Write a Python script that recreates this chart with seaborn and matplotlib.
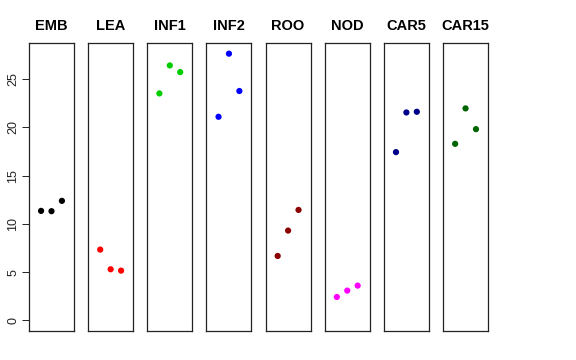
import pandas as pd
import matplotlib
matplotlib.use("Agg")
import matplotlib.pyplot as plt
import seaborn as sns

# tissue panels and their three replicate values
tissues = ["EMB", "LEA", "INF1", "INF2", "ROO", "NOD", "CAR5", "CAR15"]
colors = ["black", "red", "#00CD00", "blue", "#8B0000", "magenta", "#00008B", "#006400"]
replicate = [1, 2, 3]
emb = [11.34, 11.31, 12.38]
lea = [7.33, 5.29, 5.15]
inf1 = [23.51, 26.41, 25.72]
inf2 = [21.09, 27.63, 23.76]
roo = [6.67, 9.30, 11.44]
nod = [2.42, 3.08, 3.60]
car5 = [17.43, 21.54, 21.61]
car15 = [18.29, 21.96, 19.81]
yticks = [0, 5, 10, 15, 20, 25]

values = [emb, lea, inf1, inf2, roo, nod, car5, car15]

sns.set_style("white")
plt.rcParams["font.family"] = ["Liberation Sans", "DejaVu Sans"]
plt.rcParams["text.color"] = "black"
plt.rcParams["ytick.color"] = "#222222"
plt.rcParams["ytick.labelcolor"] = "#222222"

fig = plt.figure(figsize=(5.76, 3.6), dpi=100)

ymax = max(max(v) for v in values)
ylim = (-0.04 * ymax, ymax * 1.04)

for i, (name, col, vals) in enumerate(zip(tissues, colors, values)):
    left = 29 + i * 59.15
    ax = fig.add_axes([left / 576, 29 / 360, 45 / 576, 288 / 360])
    df = pd.DataFrame({"rep": replicate, "value": vals})
    sns.scatterplot(data=df, x="rep", y="value", color=col, s=20,
                    edgecolor="none", ax=ax)
    ax.set_xlim(-0.16, 4.16)
    ax.set_ylim(*ylim)
    ax.set_xticks([])
    ax.set_xlabel("")
    ax.set_ylabel("")
    ax.set_title(name, fontsize=10.5, fontweight="bold", pad=9, color="black")
    for sp in ax.spines.values():
        sp.set_color("#222222")
        sp.set_linewidth(0.9)
    if i == 0:
        ax.set_yticks(yticks)
        ax.tick_params(axis="y", left=True, length=5, width=0.7, pad=2,
                       labelsize=9, color="#222222")
        for lab in ax.get_yticklabels():
            lab.set_rotation(90)
            lab.set_va("center")
    else:
        ax.set_yticks([])

fig.savefig("out.png", dpi=100)
